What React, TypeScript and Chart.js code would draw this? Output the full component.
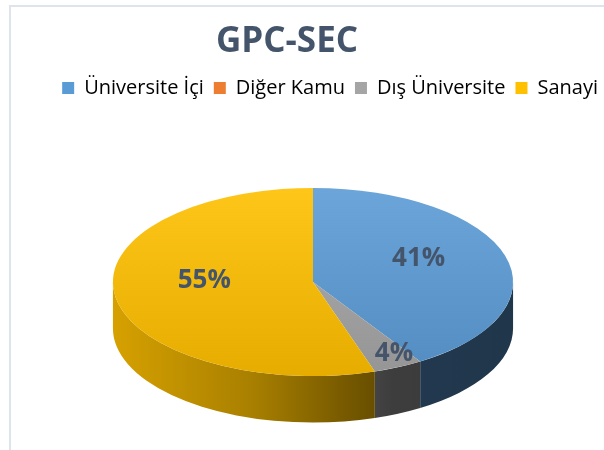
import React, { useEffect, useRef } from "react";
import { Chart, registerables } from "chart.js";

Chart.register(...registerables);

// ---- data ----
const TITLE = "GPC-SEC";
const CATEGORIES = ["Üniversite İçi", "Diğer Kamu", "Dış Üniversite", "Sanayi"];
const VALUES = [41, 0, 4, 55];
const COLORS = ["#5B9BD5", "#ED7D31", "#A5A5A5", "#FFC000"];

// ---- style ----
const TEXT_DARK = "#44546A";
const LEGEND_TEXT = "#595959";
const FONT = "'Open Sans', 'DejaVu Sans', sans-serif";
const KX = 1.17; // horizontal stretch of the tilted pie
const KY = 0.55; // vertical squash of the tilted pie
const KD = 0.272; // side depth relative to radius
const SHIFT_X = 26;
const SHIFT_Y = 3;
const LABEL_LIFT = 9;
const SIDE_STOPS: [number, number][] = [
  [0, 0.84],
  [0.35, 0.66],
  [0.7, 0.37],
  [1, 0.35],
];

function rgb(hex: string) {
  const h = hex.replace("#", "");
  return [0, 2, 4].map((i) => parseInt(h.slice(i, i + 2), 16));
}
function shade(hex: string, f: number) {
  const [r, g, b] = rgb(hex);
  return `rgb(${Math.round(r * f)},${Math.round(g * f)},${Math.round(b * f)})`;
}
function lighten(hex: string, f: number) {
  const [r, g, b] = rgb(hex);
  const m = (c: number) => Math.round(c + (255 - c) * f);
  return `rgb(${m(r)},${m(g)},${m(b)})`;
}

function geom(chart: any) {
  const meta = chart.getDatasetMeta(0);
  const first = meta.data[0];
  if (!first) return null;
  const p = first.getProps(["x", "y", "outerRadius"], true);
  return {
    meta,
    ox: p.x,
    oy: p.y,
    cx: p.x + SHIFT_X,
    cy: p.y + SHIFT_Y,
    r: p.outerRadius,
    rx: p.outerRadius * KX,
    ry: p.outerRadius * KY,
    depth: p.outerRadius * KD,
  };
}

const pie3d = {
  id: "pie3d",
  beforeDatasetsDraw(chart: any) {
    const g = geom(chart);
    if (!g) return;
    const ctx = chart.ctx as CanvasRenderingContext2D;
    g.meta.data.forEach((arc: any, i: number) => {
      const { startAngle, endAngle } = arc.getProps(["startAngle", "endAngle"], true);
      const a0 = Math.max(startAngle, 0);
      const a1 = Math.min(endAngle, Math.PI);
      if (a1 <= a0) return;
      const grad = ctx.createLinearGradient(g.cx - g.rx, 0, g.cx + g.rx, 0);
      SIDE_STOPS.forEach(([t, f]) => grad.addColorStop(t, shade(COLORS[i], f)));
      ctx.save();
      ctx.beginPath();
      ctx.ellipse(g.cx, g.cy, g.rx, g.ry, 0, a0, a1);
      ctx.lineTo(g.cx + g.rx * Math.cos(a1), g.cy + g.ry * Math.sin(a1) + g.depth);
      ctx.ellipse(g.cx, g.cy + g.depth, g.rx, g.ry, 0, a1, a0, true);
      ctx.closePath();
      ctx.fillStyle = grad;
      ctx.fill();
      ctx.restore();
    });
    ctx.save();
    ctx.translate(g.cx, g.cy);
    ctx.scale(KX, KY);
    ctx.translate(-g.ox, -g.oy);
  },
  afterDatasetsDraw(chart: any) {
    const ctx = chart.ctx as CanvasRenderingContext2D;
    const g = geom(chart);
    if (!g) return;
    ctx.restore();
    const total = VALUES.reduce((a, b) => a + b, 0);
    ctx.save();
    ctx.font = `bold 26px ${FONT}`;
    ctx.fillStyle = TEXT_DARK;
    ctx.textAlign = "center";
    ctx.textBaseline = "middle";
    g.meta.data.forEach((arc: any, i: number) => {
      const share = VALUES[i] / total;
      if (share <= 0) return;
      const { startAngle, endAngle } = arc.getProps(["startAngle", "endAngle"], true);
      const mid = (startAngle + endAngle) / 2;
      const f = share < 0.1 ? 0.95 : 0.55;
      const x = g.cx + g.rx * f * Math.cos(mid);
      const y = g.cy + g.ry * f * Math.sin(mid) - LABEL_LIFT;
      ctx.fillText(`${Math.round(share * 100)}%`, x, y);
    });
    ctx.restore();
  },
};

export default function App() {
  const ref = useRef<HTMLCanvasElement | null>(null);

  useEffect(() => {
    if (!ref.current) return;
    const chart = new Chart(ref.current, {
      type: "pie",
      data: {
        labels: CATEGORIES,
        datasets: [
          {
            data: VALUES,
            borderWidth: 0,
            hoverOffset: 0,
            clip: false as any,
            backgroundColor: (c: any) => {
              const base = COLORS[c.dataIndex] || "#999999";
              const area = c.chart.chartArea;
              if (!area) return base;
              const gr = c.chart.ctx.createLinearGradient(0, area.top, 0, area.bottom);
              gr.addColorStop(0, lighten(base, 0.1));
              gr.addColorStop(1, shade(base, 0.9));
              return gr;
            },
          },
        ],
      },
      options: {
        responsive: false,
        devicePixelRatio: 1,
        animation: false,
        layout: { padding: 0 },
        plugins: {
          title: {
            display: true,
            text: TITLE,
            color: TEXT_DARK,
            font: { family: FONT, size: 35, weight: "bold" },
            padding: { top: 21, bottom: 5 },
          },
          legend: {
            display: true,
            position: "top",
            align: "end",
            labels: {
              color: LEGEND_TEXT,
              font: { family: FONT, size: 20 },
              boxWidth: 12,
              boxHeight: 12,
              padding: 10,
              generateLabels: (chart: any) =>
                CATEGORIES.map((text, i) => ({
                  text,
                  fillStyle: COLORS[i],
                  strokeStyle: COLORS[i],
                  lineWidth: 0,
                  hidden: false,
                  index: i,
                })),
            },
          },
          tooltip: { enabled: false },
        },
      },
      plugins: [pie3d],
    });
    return () => chart.destroy();
  }, []);

  return (
    <div style={{ position: "fixed", inset: 0, overflow: "hidden", background: "#ffffff" }}>
      <div
        style={{
          position: "absolute",
          left: 9,
          top: 5,
          width: 700,
          height: 600,
          border: "2px solid #DFE4EC",
          boxSizing: "border-box",
        }}
      />
      <canvas
        ref={ref}
        width={642}
        height={450}
        style={{ position: "absolute", left: -34, top: 0, width: 642, height: 450 }}
      />
    </div>
  );
}
